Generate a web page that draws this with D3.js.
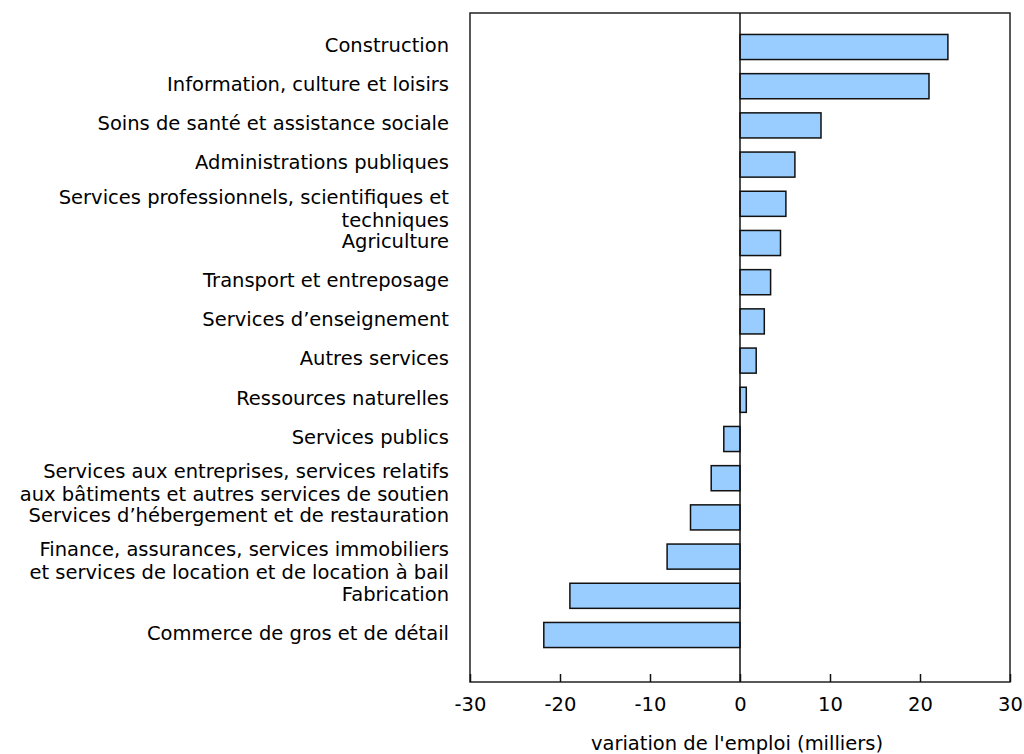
<!DOCTYPE html>
<meta charset="utf-8">
<html>
<head>
<style>
  body { margin: 0; background: #fff; }
  text { font-family: Verdana, "DejaVu Sans", sans-serif; fill: #000; }
</style>
</head>
<body>
<script src="https://d3js.org/d3.v7.min.js"></script>
<div id="chart"></div>
<script>

    // categories (top to bottom), each label split in lines as in the picture
    var categories = [
      ["Construction"],
      ["Information, culture et loisirs"],
      ["Soins de santé et assistance sociale"],
      ["Administrations publiques"],
      ["Services professionnels, scientifiques et", "techniques"],
      ["Agriculture"],
      ["Transport et entreposage"],
      ["Services d\u2019enseignement"],
      ["Autres services"],
      ["Ressources naturelles"],
      ["Services publics"],
      ["Services aux entreprises, services relatifs", "aux bâtiments et autres services de soutien"],
      ["Services d\u2019hébergement et de restauration"],
      ["Finance, assurances, services immobiliers", "et services de location et de location à bail"],
      ["Fabrication"],
      ["Commerce de gros et de détail"]
    ];

    // change in employment, thousands
    var values = [23.1, 21.0, 9.0, 6.1, 5.1, 4.5, 3.4, 2.7, 1.8, 0.7,
                  -1.8, -3.2, -5.5, -8.1, -18.9, -21.8];

    var xTicks = [-30, -20, -10, 0, 10, 20, 30];
    var xTitle = "variation de l'emploi (milliers)";

    var W = 1024, H = 754;
    var plot = {left: 470, right: 1010, top: 13, bottom: 682};
    var fontSize = "19.5px";

    var svg = d3.select("#chart")
      .append("svg")
        .attr("width", W)
        .attr("height", H);

    var x = d3.scaleLinear()
        .domain([-30, 30])
        .range([plot.left, plot.right]);

    var y = d3.scaleBand()
        .domain(d3.range(categories.length))
        .range([27.4, 654.6])
        .paddingInner(0.36)
        .paddingOuter(0.18);

    // frame
    svg.append("rect")
        .attr("x", plot.left)
        .attr("y", plot.top)
        .attr("width", plot.right - plot.left)
        .attr("height", plot.bottom - plot.top)
        .style("fill", "none")
        .style("stroke", "#222")
        .style("stroke-width", 1.5);

    // bars
    svg.selectAll("rect.bar")
        .data(values)
        .enter()
        .append("rect")
          .attr("class", "bar")
          .attr("x", function(d) { return x(Math.min(0, d)); })
          .attr("y", function(d, i) { return y(i); })
          .attr("width", function(d) { return Math.abs(x(d) - x(0)); })
          .attr("height", y.bandwidth())
          .style("fill", "#99ccff")
          .style("stroke", "#111")
          .style("stroke-width", 1.5);

    // zero line
    svg.append("line")
        .attr("x1", x(0)).attr("x2", x(0))
        .attr("y1", plot.top).attr("y2", plot.bottom)
        .style("stroke", "#111")
        .style("stroke-width", 1.5);

    // x axis, ticks pointing inward
    var xAxis = svg.append("g")
        .attr("transform", "translate(0," + plot.bottom + ")")
        .call(d3.axisBottom(x)
          .tickValues(xTicks)
          .tickFormat(function(d) { return String(d); })
          .tickSizeInner(-8).tickSizeOuter(0).tickPadding(15));
    xAxis.select(".domain").remove();
    xAxis.selectAll("line").style("stroke", "#111").style("stroke-width", 1.5);
    xAxis.selectAll("text")
        .style("font-family", "Verdana, 'DejaVu Sans', sans-serif")
        .style("font-size", fontSize)
        .style("fill", "#000");

    // category labels
    var labels = svg.selectAll("text.cat")
        .data(categories)
        .enter()
        .append("text")
          .attr("class", "cat")
          .attr("text-anchor", "end")
          .style("font-size", fontSize);
    labels.each(function(lines, i) {
      var cy = y(i) + y.bandwidth() / 2;
      d3.select(this).selectAll("tspan")
        .data(lines)
        .enter()
        .append("tspan")
          .attr("x", 449)
          .attr("y", function(d, j) { return cy - 2 + j * 23 - (lines.length - 1) * 5; })
          .attr("dy", "0.35em")
          .text(function(d) { return d; });
    });

    // axis title
    svg.append("text")
        .attr("x", 737)
        .attr("y", 743)
        .attr("dy", "0.35em")
        .attr("text-anchor", "middle")
        .style("font-size", fontSize)
        .text(xTitle);

</script>
</body>
</html>
